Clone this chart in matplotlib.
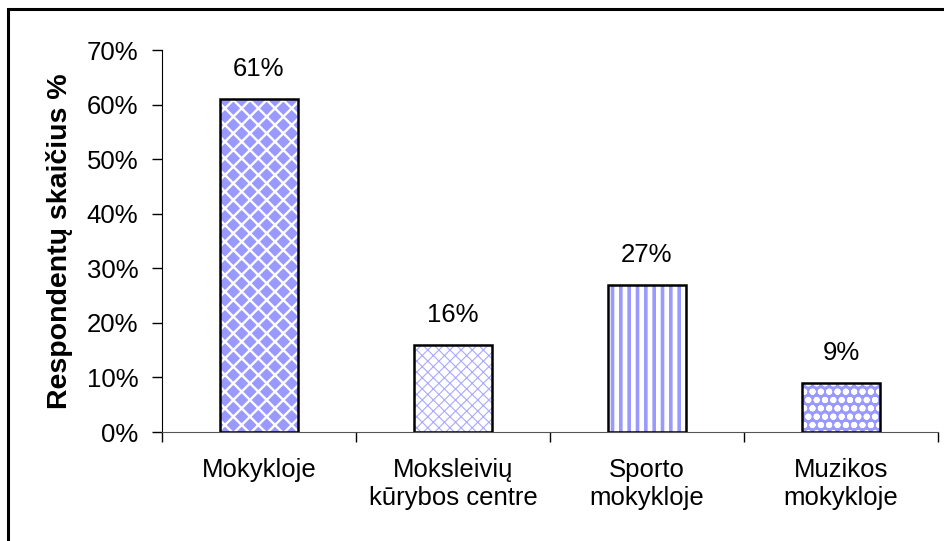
import matplotlib
matplotlib.use("Agg")
import matplotlib.pyplot as plt
from matplotlib.patches import Rectangle

plt.rcParams['font.family'] = ['Liberation Sans', 'DejaVu Sans']

categories = ["Mokykloje", "Moksleivių\nkūrybos centre", "Sporto\nmokykloje", "Muzikos\nmokykloje"]
values = [61, 16, 27, 9]
yticks = [0, 10, 20, 30, 40, 50, 60, 70]

blue = "#9999FF"
# (hatch, hatch line width, face colour, hatch colour)
styles = [("xx", 1.7, blue, "white"),
          ("xxx", 0.8, "white", "#AAAAFF"),
          ("||", 2.6, "white", blue),
          ("oo", 2.0, blue, "white")]

fig = plt.figure(figsize=(9.45, 5.41), dpi=100)
ax = fig.add_axes([162/945, 1-432/541, (938-162)/945, (432-50)/541])

x = list(range(len(categories)))
for xi, v, (h, hw, fc, hc) in zip(x, values, styles):
    plt.rcParams['hatch.linewidth'] = hw
    ax.bar(xi, v, width=0.4, color=fc, edgecolor=hc, hatch=h, linewidth=0, zorder=2)
ax.bar(x, values, width=0.4, fill=False, edgecolor="black", linewidth=1.8, zorder=3)

for xi, v in zip(x, values):
    ax.text(xi, v + 3.3, f"{v}%", ha="center", va="bottom", fontsize=18.5)

ax.set_xlim(-0.5, len(categories) - 0.5)
ax.set_ylim(0, 70)
ax.set_yticks(yticks)
ax.set_yticklabels([f"{t}%" for t in yticks], fontsize=18.5)
ax.set_xticks([i - 0.5 for i in range(len(categories) + 1)])
ax.set_xticklabels([])
ax.set_xticks(x, minor=True)
ax.set_xticklabels(categories, minor=True, fontsize=18.5)
ax.tick_params(axis='x', which='minor', length=0, pad=19)
ax.tick_params(axis='x', which='major', length=7, width=1, direction='out')
ax.tick_params(axis='y', length=7, width=1, direction='out', pad=10)
for s in ["top", "right"]:
    ax.spines[s].set_visible(False)
ax.spines["left"].set_color("black")
ax.spines["bottom"].set_color("#555555")
ax.set_ylabel("Respondentų skaičius %", fontsize=20.5, fontweight="bold", labelpad=10)

fig.patches.append(Rectangle((8/945, -0.05), 1.1, 1 - 9/541 + 0.05, transform=fig.transFigure,
                             fill=False, edgecolor="black", linewidth=2.2))

fig.savefig("out.png", dpi=100)
